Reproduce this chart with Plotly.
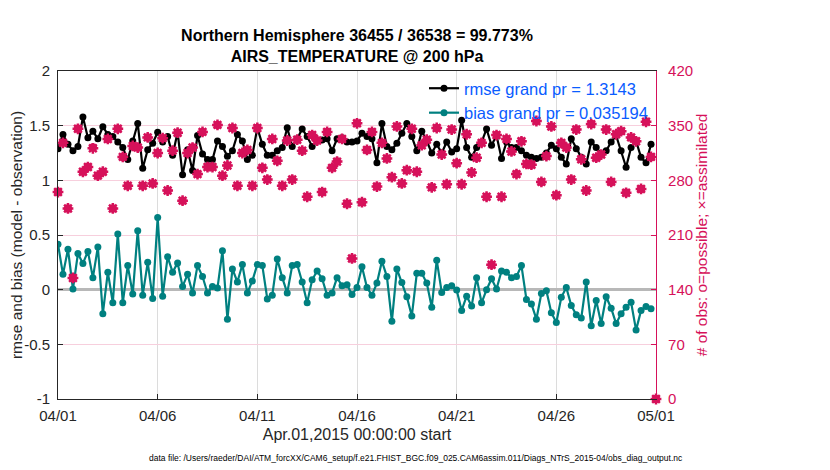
import plotly.graph_objects as go
import pandas as pd

times = pd.date_range("2015-04-01 00:00", periods=121, freq="6h")

rmse = [1.29,1.42,1.33,1.27,1.31,1.58,1.39,1.45,1.38,1.49,1.42,1.40,1.35,1.30,1.19,1.36,1.52,1.11,1.28,1.34,
        1.44,1.35,1.40,1.23,1.44,1.05,1.28,1.09,1.41,1.24,1.19,1.19,1.36,1.31,1.22,1.27,1.42,1.36,1.19,1.23,
        1.48,1.33,1.23,1.23,1.27,1.30,1.48,1.31,1.38,1.47,1.40,1.31,1.36,1.37,1.38,1.27,1.38,1.39,1.35,1.35,
        1.36,1.43,1.40,1.38,1.16,1.52,1.31,1.28,1.34,1.43,1.52,1.40,1.27,1.45,1.36,1.25,1.33,1.25,1.35,1.26,
        1.29,1.55,1.30,1.21,1.30,1.35,1.47,1.32,1.41,1.20,1.35,1.30,1.30,1.27,1.23,1.21,1.20,1.21,1.25,1.32,
        1.29,1.21,1.15,1.38,1.29,1.21,1.15,1.35,1.30,1.24,1.27,1.35,1.41,1.27,1.12,1.30,1.36,1.21,1.16,1.33]

bias = [0.415,0.14,0.37,0.006,0.33,0.24,0.35,0.11,0.39,-0.22,0.16,-0.12,0.51,-0.12,0.22,-0.04,0.54,-0.05,0.25,-0.08,
        0.66,-0.06,0.30,0.16,0.245,0.03,0.14,-0.03,0.22,0.12,-0.03,0.03,0.015,0.355,-0.27,0.19,0.07,0.23,-0.03,0.08,
        0.23,0.22,-0.085,-0.05,0.28,0.11,-0.03,0.22,0.23,0.07,-0.12,0.09,0.17,0.10,-0.05,-0.03,0.11,0.035,0.045,-0.045,
        0.02,0.21,0.02,-0.05,0.06,0.26,0.12,-0.29,0.19,0.065,-0.065,-0.24,0.15,0.15,0.06,-0.16,0.27,-0.025,0.02,0.035,
        -0.003,-0.19,-0.06,-0.15,0.11,-0.12,0.00,0.10,0.006,0.17,0.16,0.11,0.12,0.22,-0.09,-0.13,-0.27,-0.035,-0.01,-0.21,
        -0.30,-0.07,0.02,-0.145,-0.23,-0.26,0.07,-0.33,-0.10,-0.31,-0.065,-0.17,-0.31,-0.22,-0.16,-0.115,-0.37,-0.19,-0.155,-0.175]

obs_possible = [265,328,244,155,346,291,297,322,286,291,333,244,346,310,273,324,322,273,335,276,
                315,334,267,318,341,254,315,322,288,342,297,297,351,286,299,347,273,315,319,273,
                347,296,281,333,305,273,331,281,332,318,259,338,331,265,342,296,304,333,250,180,
                353,252,319,342,272,328,308,284,349,276,293,346,291,325,332,271,347,313,275,345,
                302,275,339,290,309,328,259,172,338,259,333,317,288,330,301,300,356,278,311,349,
                261,328,322,281,345,307,267,352,309,313,345,278,339,343,264,335,330,269,355,310,0]
obs_assimilated = [265,328,244,155,346,291,297,321,286,291,333,244,346,310,273,324,322,273,335,276,
                   315,334,267,318,341,254,315,322,288,342,297,297,351,286,299,347,273,315,319,273,
                   347,296,281,333,305,273,331,281,332,318,259,338,331,265,342,296,304,333,250,180,
                   353,252,319,342,272,328,308,284,349,276,293,346,291,325,332,271,347,313,275,345,
                   302,275,339,290,309,328,259,172,338,259,333,317,288,330,301,300,356,278,311,349,
                   261,328,322,281,345,307,267,352,309,313,345,278,339,343,264,335,330,269,355,310,0]

title_lines = ["Northern Hemisphere 36455 / 36538 = 99.773%", "AIRS_TEMPERATURE @ 200 hPa"]
rmse_label = "rmse grand pr = 1.3143"
bias_label = "bias grand pr = 0.035194"
left_ticks = [-1, -0.5, 0, 0.5, 1, 1.5, 2]
right_ticks = [0, 70, 140, 210, 280, 350, 420]
footer = "data file: /Users/raeder/DAI/ATM_forcXX/CAM6_setup/f.e21.FHIST_BGC.f09_025.CAM6assim.011/Diags_NTrS_2015-04/obs_diag_output.nc"

CRIMSON = "#d6115a"
TEAL = "#008080"
FONT = "Liberation Sans, Arial, sans-serif"

# page body adds an 8px offset; figure is sized/margined to compensate
W, H = 822, 462
PL, PT, PR, PB = 50, 63, 648, 391  # plot area in figure pixels

fig = go.Figure()

fig.add_trace(go.Scatter(x=times, y=obs_possible, yaxis="y2", mode="markers",
                         marker=dict(symbol="circle", size=8.5, color=CRIMSON),
                         showlegend=False, cliponaxis=False, hoverinfo="skip"))
fig.add_trace(go.Scatter(x=times, y=obs_assimilated, yaxis="y2", mode="markers",
                         marker=dict(symbol="asterisk-open", size=9, color=CRIMSON,
                                     line=dict(color=CRIMSON, width=2.5)),
                         showlegend=False, cliponaxis=False, hoverinfo="skip"))
fig.add_trace(go.Scatter(x=times[:len(rmse)], y=rmse, mode="lines+markers", name=rmse_label,
                         line=dict(color="black", width=2.2),
                         marker=dict(symbol="circle", size=7, color="black")))
fig.add_trace(go.Scatter(x=times[:len(bias)], y=bias, mode="lines+markers", name=bias_label,
                         line=dict(color=TEAL, width=2.2),
                         marker=dict(symbol="circle", size=7, color=TEAL)))

fig.update_layout(
    width=W, height=H,
    margin=dict(l=PL, r=W - PR, t=PT, b=H - PB, autoexpand=False),
    paper_bgcolor="white", plot_bgcolor="white",
    font=dict(family=FONT, size=15, color="#262626"),
    title=dict(text="<b>" + title_lines[0] + "<br>" + title_lines[1] + "</b>",
               x=(PL + PR) / 2 / W, xanchor="center", y=1 - 33 / H, yanchor="top", yref="container",
               font=dict(family=FONT, size=16, color="black")),
    showlegend=True,
    legend=dict(x=(424 - 58) / 598, y=1.0, xanchor="left", yanchor="top",
                bgcolor="rgba(255,255,255,0)", borderwidth=0,
                font=dict(family=FONT, size=16.5, color="#0a5cff"),
                tracegroupgap=0, itemwidth=30),
    xaxis=dict(type="date", range=[times[0], times[-1]], automargin=False,
               tickformat="%m/%d", dtick=5 * 86400000, tick0=times[0],
               ticks="inside", ticklen=5, tickcolor="#262626", ticklabelstandoff=3,
               showline=True, linecolor="#262626", linewidth=1, mirror=True,
               showgrid=True, gridcolor="#dcdcdc", gridwidth=1,
               title=dict(text="Apr.01,2015 00:00:00 start", standoff=5,
                          font=dict(size=16, color="#262626")),
               tickfont=dict(size=15, color="#262626")),
    yaxis=dict(range=[-1, 2], tickvals=left_ticks, ticktext=[str(v) for v in left_ticks],
               automargin=False, ticklabelstandoff=4,
               ticks="inside", ticklen=5, tickcolor="#262626",
               showline=True, linecolor="#262626", linewidth=1,
               showgrid=True, gridcolor="#f7cfdd", gridwidth=1,
               zeroline=True, zerolinecolor="#b8b8b8", zerolinewidth=2.5,
               title=dict(text="rmse and bias (model - observation)", standoff=6,
                          font=dict(size=15.5, color="#262626")),
               tickfont=dict(size=15, color="#262626")),
    yaxis2=dict(range=[0, 420], tickvals=right_ticks, overlaying="y", side="right",
                automargin=False, ticklabelstandoff=8,
                ticks="inside", ticklen=5, tickcolor=CRIMSON,
                showline=True, linecolor=CRIMSON, linewidth=1.2,
                showgrid=False, zeroline=False,
                title=dict(text="# of obs: o=possible; \u00d7=assimilated", standoff=4,
                           font=dict(size=15.5, color=CRIMSON)),
                tickfont=dict(size=15, color=CRIMSON)),
)

fig.add_annotation(text=footer, xref="paper", yref="paper", x=(416 - 58) / 598, y=-(458 - 399) / 328,
                   xanchor="center", yanchor="middle", showarrow=False,
                   font=dict(family=FONT, size=8.5, color="black"))

fig.write_html("out.html")
